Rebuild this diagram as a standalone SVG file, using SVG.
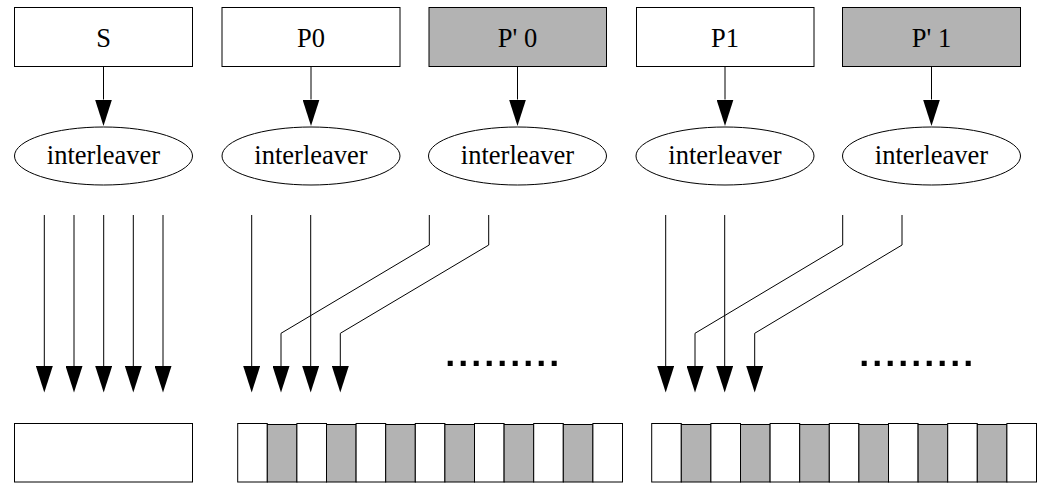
<svg xmlns="http://www.w3.org/2000/svg" width="1041" height="483" viewBox="0 0 1041 483">
<style>
  .box{fill:#fff;stroke:#000;stroke-width:1}
  .gbox{fill:#b3b3b3;stroke:#000;stroke-width:1}
  .ell{fill:#fff;stroke:#000;stroke-width:1}
  .lbl{font-family:'Liberation Serif',serif;font-size:26.5px;fill:#000;text-anchor:middle}
  .edge{fill:none;stroke:#000;stroke-width:1;marker-end:url(#ah)}
  .cw{fill:#fff;stroke:#000;stroke-width:1}
  .cg{fill:#b3b3b3;stroke:#000;stroke-width:1}
  .dots{stroke:#000;stroke-width:5.3;stroke-dasharray:5 8;fill:none}
</style>
<defs>
  <marker id="ah" markerUnits="userSpaceOnUse" viewBox="0 0 26.5 17" refX="0" refY="8.5" markerWidth="26.5" markerHeight="17" orient="auto">
    <path d="M0,0 L26.5,8.5 L0,17 Z" fill="#000"/>
  </marker>
</defs>
<rect width="1041" height="483" fill="#fff"/>

<g id="S">
  <rect class="box" x="14.5" y="7.5" width="178" height="59"/>
  <text class="lbl" x="103.5" y="46.5">S</text>
</g>
<g id="P0">
  <rect class="box" x="222" y="7.5" width="178" height="59"/>
  <text class="lbl" x="311" y="46.5">P0</text>
</g>
<g id="Pp0">
  <rect class="gbox" x="429" y="7.5" width="177.5" height="59"/>
  <text class="lbl" x="517.5" y="46.5">P' 0</text>
</g>
<g id="P1">
  <rect class="box" x="636.5" y="7.5" width="177.5" height="59"/>
  <text class="lbl" x="725" y="46.5">P1</text>
</g>
<g id="Pp1">
  <rect class="gbox" x="842.5" y="7.5" width="178" height="59"/>
  <text class="lbl" x="931.5" y="46.5">P' 1</text>
</g>

<g id="ilv_S">
  <ellipse class="ell" cx="103.5" cy="156" rx="89" ry="29"/>
  <text class="lbl" x="103.5" y="163.5">interleaver</text>
</g>
<g id="ilv_P0">
  <ellipse class="ell" cx="311" cy="156" rx="89" ry="29"/>
  <text class="lbl" x="311" y="163.5">interleaver</text>
</g>
<g id="ilv_Pp0">
  <ellipse class="ell" cx="517.5" cy="156" rx="89" ry="29"/>
  <text class="lbl" x="517.5" y="163.5">interleaver</text>
</g>
<g id="ilv_P1">
  <ellipse class="ell" cx="725" cy="156" rx="89" ry="29"/>
  <text class="lbl" x="725" y="163.5">interleaver</text>
</g>
<g id="ilv_Pp1">
  <ellipse class="ell" cx="931.5" cy="156" rx="89" ry="29"/>
  <text class="lbl" x="931.5" y="163.5">interleaver</text>
</g>

<g id="out_S">
  <rect class="box" x="14.5" y="423.5" width="178" height="58.5"/>
</g>
<g id="out_P0">
  <rect class="cw" x="237.7" y="423.5" width="29.6" height="58.5"/>
  <rect class="cg" x="267.3" y="424.5" width="29.6" height="57.5"/>
  <rect class="cw" x="296.9" y="423.5" width="29.6" height="58.5"/>
  <rect class="cg" x="326.5" y="424.5" width="29.6" height="57.5"/>
  <rect class="cw" x="356.1" y="423.5" width="29.6" height="58.5"/>
  <rect class="cg" x="385.7" y="424.5" width="29.6" height="57.5"/>
  <rect class="cw" x="415.3" y="423.5" width="29.6" height="58.5"/>
  <rect class="cg" x="444.9" y="424.5" width="29.6" height="57.5"/>
  <rect class="cw" x="474.5" y="423.5" width="29.6" height="58.5"/>
  <rect class="cg" x="504.1" y="424.5" width="29.6" height="57.5"/>
  <rect class="cw" x="533.7" y="423.5" width="29.6" height="58.5"/>
  <rect class="cg" x="563.3" y="424.5" width="29.6" height="57.5"/>
  <rect class="cw" x="592.9" y="423.5" width="29.6" height="58.5"/>
</g>
<g id="out_P1">
  <rect class="cw" x="651.7" y="423.5" width="29.6" height="58.5"/>
  <rect class="cg" x="681.3" y="424.5" width="29.6" height="57.5"/>
  <rect class="cw" x="710.9" y="423.5" width="29.6" height="58.5"/>
  <rect class="cg" x="740.5" y="424.5" width="29.6" height="57.5"/>
  <rect class="cw" x="770.1" y="423.5" width="29.6" height="58.5"/>
  <rect class="cg" x="799.7" y="424.5" width="29.6" height="57.5"/>
  <rect class="cw" x="829.3" y="423.5" width="29.6" height="58.5"/>
  <rect class="cg" x="858.9" y="424.5" width="29.6" height="57.5"/>
  <rect class="cw" x="888.5" y="423.5" width="29.6" height="58.5"/>
  <rect class="cg" x="918.1" y="424.5" width="29.6" height="57.5"/>
  <rect class="cw" x="947.7" y="423.5" width="29.6" height="58.5"/>
  <rect class="cg" x="977.3" y="424.5" width="29.6" height="57.5"/>
  <rect class="cw" x="1006.9" y="423.5" width="29.6" height="58.5"/>
</g>

<g id="ellipsis">
  <line class="dots" x1="447.7" y1="363.4" x2="556.7" y2="363.4"/>
  <line class="dots" x1="861.7" y1="363.4" x2="970.7" y2="363.4"/>
</g>

<g id="connectors">
  <path class="edge" d="M103.5,66.5 V99.5"/>
  <path class="edge" d="M311,66.5 V99.5"/>
  <path class="edge" d="M517.5,66.5 V99.5"/>
  <path class="edge" d="M725,66.5 V99.5"/>
  <path class="edge" d="M931.5,66.5 V99.5"/>

  <path class="edge" d="M44.3,215 V366"/>
  <path class="edge" d="M74,215 V366"/>
  <path class="edge" d="M103.7,215 V366"/>
  <path class="edge" d="M133.3,215 V366"/>
  <path class="edge" d="M163,215 V366"/>

  <path class="edge" d="M251.7,215 V366"/>
  <path class="edge" d="M310.7,215 V366"/>
  <path class="edge" d="M429.3,215 V245 L281,333.3 V366"/>
  <path class="edge" d="M488.7,215 V245 L340.3,333.3 V366"/>

  <path class="edge" d="M665.7,215 V366"/>
  <path class="edge" d="M724.7,215 V366"/>
  <path class="edge" d="M842.7,215 V245 L695,333.3 V366"/>
  <path class="edge" d="M902,215 V245 L754.7,333.3 V366"/>
</g>
</svg>
